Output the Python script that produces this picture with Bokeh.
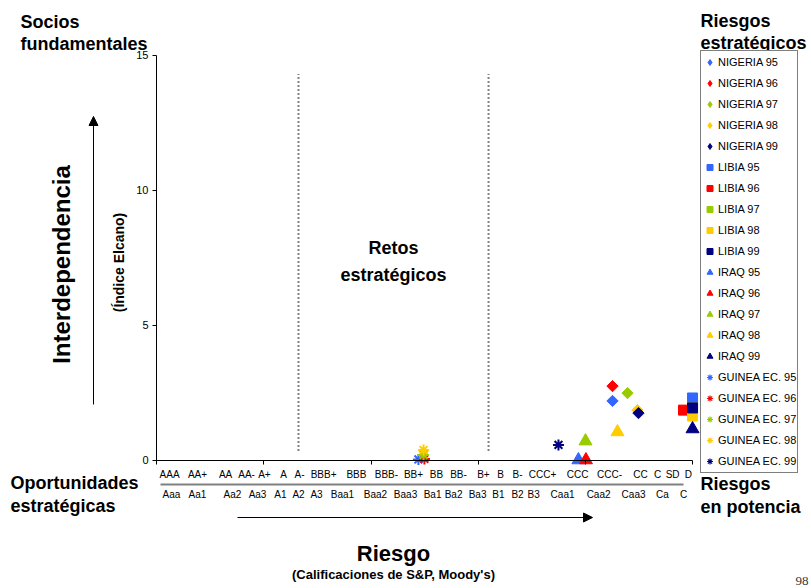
import numpy as np
from bokeh.plotting import figure
from bokeh.models import (Range1d, FixedTicker, Label, LinearAxis,
                          Arrow, NormalHead, Legend, LegendItem)
from bokeh.embed import file_html
from bokeh.resources import INLINE

# ---------------- data ----------------
years = ["95", "96", "97", "98", "99"]
colors = ["#3366FF", "#FF0000", "#99CC00", "#FFCC00", "#000080"]

nigeria_x = [21.26, 21.26, 21.96, 22.42, 22.47]
nigeria_y = [2.19, 2.74, 2.48, 1.85, 1.74]
libia_x = [24.99, 24.57, 24.99, 24.99, 24.99]
libia_y = [2.30, 1.85, 1.93, 1.63, 1.93]
iraq_x = [19.67, 20.02, 20.00, 21.49, 24.99]
iraq_y = [0.00, 0.00, 0.70, 1.04, 1.15]
guinea_x = [12.21, 12.49, 12.45, 12.45, 18.74]
guinea_y = [0.02, 0.04, 0.19, 0.37, 0.56]

sp_labels = ["AAA", "AA+", "AA", "AA-", "A+", "A", "A-", "BBB+", "BBB", "BBB-",
             "BB+", "BB", "BB-", "B+", "B", "B-", "CCC+", "CCC", "CCC-", "CC",
             "C", "SD", "D"]
sp_pos = [0.61, 1.91, 3.22, 4.20, 5.03, 5.92, 6.67, 7.79, 9.32, 10.72,
          11.98, 13.05, 14.08, 15.24, 16.04, 16.83, 18.00, 19.63, 21.12, 22.56,
          23.36, 24.06, 24.80]
moody_labels = ["Aaa", "Aa1", "Aa2", "Aa3", "A1", "A2", "A3", "Baa1", "Baa2", "Baa3",
                "Ba1", "Ba2", "Ba3", "B1", "B2", "B3", "Caa1", "Caa2", "Caa3", "Ca", "C"]
moody_pos = [0.70, 1.91, 3.54, 4.71, 5.78, 6.62, 7.46, 8.67, 10.21, 11.61,
             12.87, 13.85, 14.97, 15.94, 16.83, 17.58, 18.93, 20.61, 22.24, 23.59, 24.57]

divider_x = [6.62, 15.48]
divider_y = [0.33, 14.31]

y_ticks = [0, 5, 10, 15]
x_ticks = [0, 5, 10, 15, 20, 25]

# ---------------- layout helpers (page pixel -> data) ----------------
W, H = 811, 588
PX0, PXU = 156.0, 21.45      # page x of data x=0, pixels per x unit
PY0, PYU = 459.5, 26.967     # page y of data y=0, pixels per y unit
FONT = "Liberation Sans"


def X(px):
    return (px - PX0) / PXU


def Y(py):
    return (PY0 - py) / PYU


p = figure(width=W, height=H, x_range=Range1d(X(0), X(W)), y_range=Range1d(Y(H), Y(0)),
           output_backend="svg", toolbar_location=None, x_axis_type=None, y_axis_type=None,
           min_border=0, min_border_left=0, min_border_right=0,
           min_border_top=0, min_border_bottom=0)
p.outline_line_color = None
p.grid.visible = False
p.background_fill_color = "white"
p.border_fill_color = "white"

# main x axis: S&P ratings as labels, tick marks every 5 units (minor ticks)
xa = LinearAxis(ticker=FixedTicker(ticks=sp_pos, minor_ticks=x_ticks),
                major_label_overrides={v: t for v, t in zip(sp_pos, sp_labels)},
                bounds=(0, 25), fixed_location=0,
                axis_line_color="black", major_tick_line_color=None,
                major_tick_out=0, major_tick_in=0,
                minor_tick_line_color="black", minor_tick_out=4, minor_tick_in=0,
                major_label_standoff=5, major_label_text_font=FONT,
                major_label_text_font_size="10px", major_label_text_color="black")
p.add_layout(xa, "below")

# Moody's ratings row
ma = LinearAxis(ticker=FixedTicker(ticks=moody_pos),
                major_label_overrides={v: t for v, t in zip(moody_pos, moody_labels)},
                bounds=(0, 25), fixed_location=0,
                axis_line_color=None, major_tick_line_color=None,
                major_tick_out=0, major_tick_in=0, minor_tick_line_color=None,
                major_label_standoff=29, major_label_text_font=FONT,
                major_label_text_font_size="10px", major_label_text_color="black")
p.add_layout(ma, "below")

ya = LinearAxis(ticker=FixedTicker(ticks=y_ticks), bounds=(0, 15), fixed_location=0,
                axis_line_color="black", major_tick_line_color="black",
                minor_tick_line_color=None, major_tick_out=4, major_tick_in=0,
                major_label_standoff=4, major_label_text_font=FONT,
                major_label_text_font_size="11px", major_label_text_color="black")
p.add_layout(ya, "left")

# dotted dividers
p.segment(x0=divider_x, y0=[divider_y[0]] * 2, x1=divider_x, y1=[divider_y[1]] * 2,
          line_color="#808080", line_width=2, line_dash="2 2")

# separator between rating rows
p.segment(x0=[X(160)], y0=[Y(484)], x1=[X(683)], y1=[Y(484)],
          line_color="#808080", line_width=2)

# ---------------- series ----------------
items = []
series = [
    ("NIGERIA", nigeria_x, nigeria_y,
     dict(marker="square", angle=np.pi / 4, size=8), dict(marker="diamond")),
    ("LIBIA", libia_x, libia_y, dict(marker="square", size=10), dict(marker="square")),
    ("IRAQ", iraq_x, iraq_y, dict(marker="triangle", size=13), dict(marker="triangle")),
    ("GUINEA EC.", guinea_x, guinea_y, dict(marker="asterisk", size=11, line_width=2),
     dict(marker="asterisk", line_width=1.2)),
]
nan = np.array([np.nan])
for name, xs, ys, style, lstyle in series:
    for i, yr in enumerate(years):
        c = colors[i]
        p.scatter(x=[xs[i]], y=[ys[i]], fill_color=c, line_color=c, **style)
        # legend swatch (drawn only in the legend)
        proxy = p.scatter(x=nan, y=nan, fill_color=c, line_color=c, **lstyle)
        items.append(LegendItem(label=f"{name} {yr}", renderers=[proxy]))

LEG_TOP, LEG_H = 52, 421
legend = Legend(items=items, location=(700, H - LEG_TOP - LEG_H), orientation="vertical",
                border_line_color="black", border_line_width=1,
                background_fill_color="white", background_fill_alpha=1,
                padding=1, spacing=1, margin=0,
                glyph_width=15, glyph_height=20, label_height=20,
                label_standoff=1, label_text_font=FONT,
                label_text_font_size="11px", label_text_color="black")
p.add_layout(legend)


# ---------------- texts ----------------
def add_text(text, px, py, size, bold=True, align="left", angle=0.0,
             font=FONT, color="black", baseline="middle"):
    p.add_layout(Label(x=X(px), y=Y(py), text=text, text_font=font,
                       text_font_size=f"{size}px",
                       text_font_style="bold" if bold else "normal",
                       text_align=align, text_baseline=baseline,
                       angle=angle, text_color=color))


add_text("Socios", 20, 21, 18)
add_text("fundamentales", 20, 43, 18)
add_text("Riesgos", 700, 20, 18)
add_text("estratégicos", 700, 42, 18)
add_text("Oportunidades", 10, 482, 18)
add_text("estratégicas", 10, 505, 18)
add_text("Riesgos", 700, 483, 18)
add_text("en potencia", 700, 506, 18)
add_text("Retos", 393, 247, 18, align="center")
add_text("estratégicos", 393, 274, 18, align="center")
add_text("Interdependencia", 61, 264, 24, align="center", angle=np.pi / 2)
add_text("(Índice Elcano)", 118, 262, 14, align="center", angle=np.pi / 2)
add_text("Riesgo", 393, 553, 22, align="center")
add_text("(Calificaciones de S&P, Moody's)", 393, 574, 13, align="center")
add_text("98", 808, 580, 13, bold=False, font="Liberation Serif", color="#333333",
         align="right")

# arrows
p.add_layout(Arrow(end=NormalHead(size=9, fill_color="black", line_color="black"),
                   x_start=X(93), y_start=Y(404), x_end=X(93), y_end=Y(116),
                   line_color="black", line_width=1))
p.add_layout(Arrow(end=NormalHead(size=9, fill_color="black", line_color="black"),
                   x_start=X(237), y_start=Y(517), x_end=X(592), y_end=Y(517),
                   line_color="black", line_width=1))

open("out.html", "w").write(file_html(p, INLINE))
